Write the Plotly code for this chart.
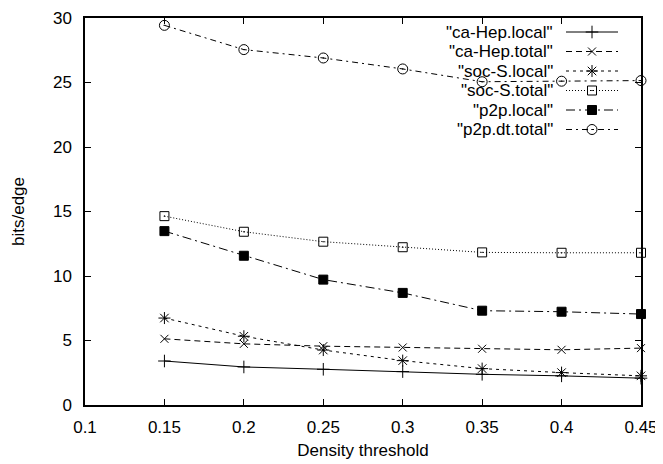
import plotly.graph_objects as go

# ---- data ----
thresholds = [0.15, 0.2, 0.25, 0.3, 0.35, 0.4, 0.45]
ca_hep_local = [3.41, 2.95, 2.77, 2.59, 2.38, 2.26, 2.08]
ca_hep_total = [5.13, 4.74, 4.56, 4.46, 4.36, 4.28, 4.41]
soc_s_local = [6.74, 5.33, 4.26, 3.44, 2.82, 2.51, 2.26]
soc_s_total = [14.64, 13.43, 12.66, 12.23, 11.83, 11.80, 11.80]
p2p_local = [13.48, 11.57, 9.72, 8.69, 7.31, 7.23, 7.05]
p2p_dt_total = [29.43, 27.55, 26.9, 26.05, 25.06, 25.1, 25.15]

series_names = ['"ca-Hep.local"', '"ca-Hep.total"', '"soc-S.local"',
                '"soc-S.total"', '"p2p.local"', '"p2p.dt.total"']
x_tick_vals = [0.1, 0.15, 0.2, 0.25, 0.3, 0.35, 0.4, 0.45]
x_tick_text = ["0.1", "0.15", "0.2", "0.25", "0.3", "0.35", "0.4", "0.45"]
y_tick_vals = [0, 5, 10, 15, 20, 25, 30]

series_values = [ca_hep_local, ca_hep_total, soc_s_local,
                 soc_s_total, p2p_local, p2p_dt_total]

# ---- styles ----
styles = [
    dict(dash="solid", symbol="cross-thin", size=9),
    dict(dash="6px,4px", symbol="x-thin", size=8),
    dict(dash="3px,4px", symbol="asterisk", size=10),
    dict(dash="1px,2px", symbol="square-open-dot", size=9),
    dict(dash="9px,4px,2px,4px", symbol="square", size=9),
    dict(dash="6px,4px,2px,4px", symbol="circle-open-dot", size=10),
]

FONT = "Liberation Sans, Arial, Helvetica, sans-serif"
FS = 17

# page layout (the html body adds an 8px offset)
OFF = 8
PAGE_W, PAGE_H = 663, 464
PLOT_L, PLOT_R, PLOT_T, PLOT_B = 85, 641, 18, 405   # plot area in page pixels
W, H = PAGE_W - OFF, PAGE_H - OFF

fig = go.Figure()

for name, vals, st in zip(series_names, series_values, styles):
    fig.add_trace(go.Scatter(
        x=thresholds, y=vals, name=name, mode="lines+markers",
        line=dict(color="black", width=1, dash=st["dash"]),
        marker=dict(symbol=st["symbol"], size=st["size"], color="black",
                    line=dict(color="black", width=1)),
        showlegend=False, cliponaxis=False,
    ))

# ---- custom gnuplot-style legend (text left, sample right) ----
legend_row0 = 32
legend_step = 19.5
text_right = 555
sample_x0, sample_x1 = 566, 618
for i, (name, st) in enumerate(zip(series_names, styles)):
    ry = legend_row0 + i * legend_step
    fig.add_trace(go.Scatter(
        x=[sample_x0, (sample_x0 + sample_x1) / 2, sample_x1], y=[ry, ry, ry],
        mode="lines", xaxis="x2", yaxis="y2", showlegend=False, hoverinfo="skip",
        line=dict(color="black", width=1, dash=st["dash"]),
    ))
    fig.add_trace(go.Scatter(
        x=[(sample_x0 + sample_x1) / 2], y=[ry],
        mode="markers", xaxis="x2", yaxis="y2", showlegend=False, hoverinfo="skip",
        marker=dict(symbol=st["symbol"], size=st["size"], color="black",
                    line=dict(color="black", width=1)),
    ))
    fig.add_annotation(x=text_right, y=ry, xref="x2", yref="y2", text=name,
                       showarrow=False, xanchor="right", yanchor="middle",
                       font=dict(family=FONT, size=FS, color="black"))

axis_common = dict(showline=True, linecolor="black", linewidth=1.5, mirror="allticks",
                   ticks="inside", ticklen=6, tickcolor="black", tickwidth=1,
                   showgrid=False, zeroline=False, automargin=False,
                   ticklabeloverflow="allow",
                   tickfont=dict(family=FONT, size=FS, color="black"))

fig.update_layout(
    width=W, height=H, autosize=False,
    margin=dict(l=PLOT_L - OFF, r=PAGE_W - PLOT_R, t=PLOT_T - OFF, b=PAGE_H - PLOT_B,
                pad=0, autoexpand=False),
    paper_bgcolor="white", plot_bgcolor="white",
    font=dict(family=FONT, size=FS, color="black"),
    xaxis=dict(range=[0.1, 0.45], tickvals=x_tick_vals, ticktext=x_tick_text,
               ticklabelstandoff=6,
               title=dict(text="Density threshold", standoff=8,
                          font=dict(family=FONT, size=FS)),
               **axis_common),
    yaxis=dict(range=[0, 30], tickvals=y_tick_vals, ticklabelstandoff=8,
               title=dict(text="bits/edge", standoff=24,
                          font=dict(family=FONT, size=FS)),
               **axis_common),
    xaxis2=dict(overlaying="x", range=[PLOT_L, PLOT_R], visible=False, anchor="y2"),
    yaxis2=dict(overlaying="y", range=[PLOT_B, PLOT_T], visible=False, anchor="x2"),
)

fig.write_html("out.html")
